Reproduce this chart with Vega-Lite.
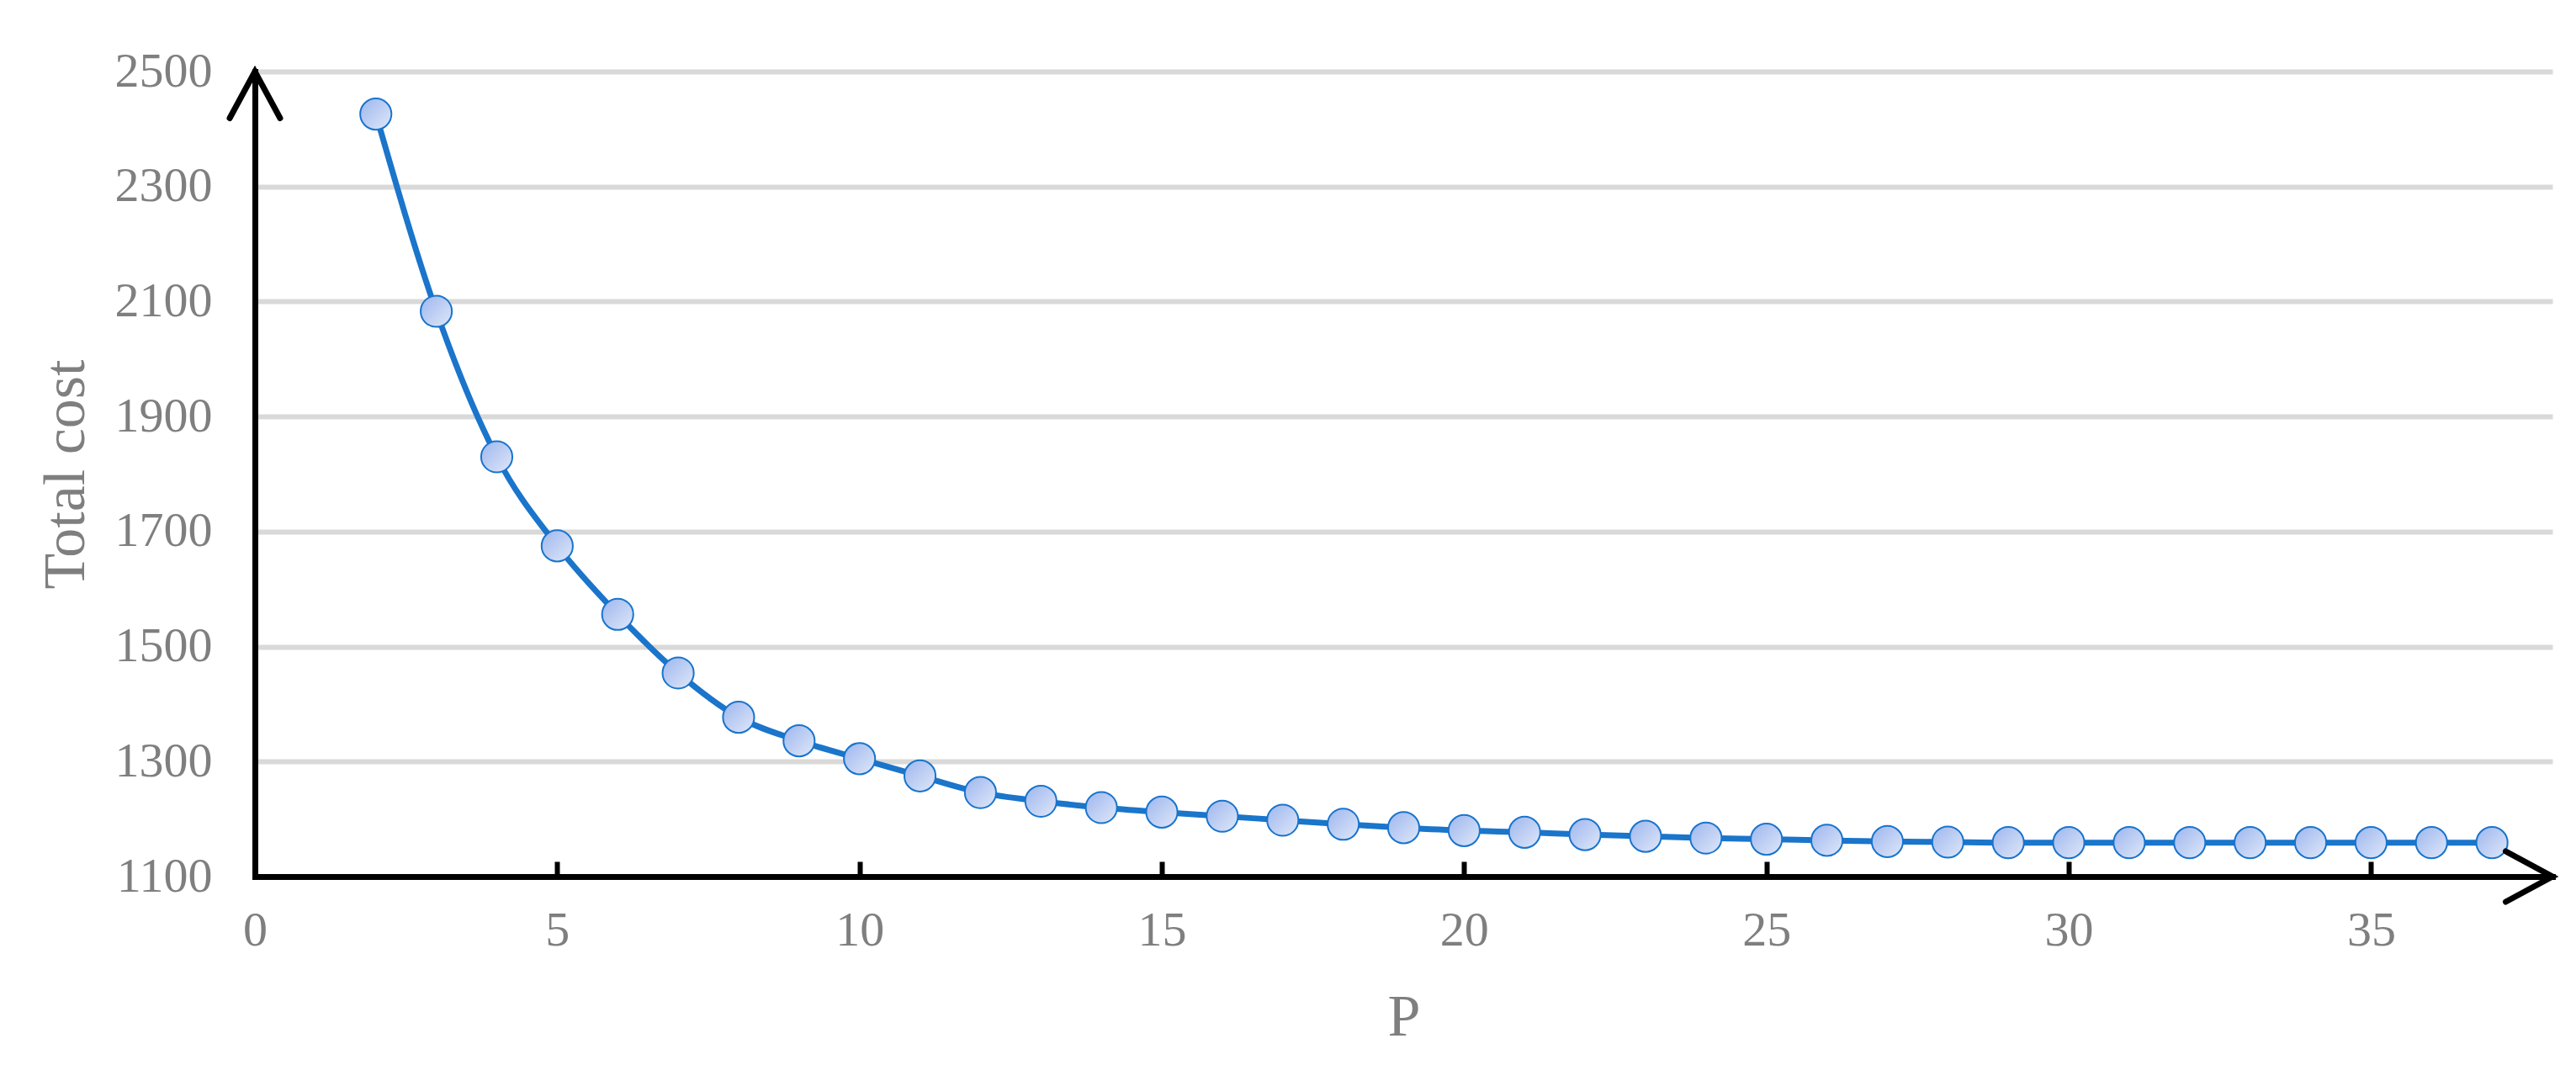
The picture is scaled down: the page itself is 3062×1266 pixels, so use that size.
{
  "$schema": "https://vega.github.io/schema/vega-lite/v6.json",
  "width": 2731,
  "height": 957,
  "autosize": {"type": "none"},
  "padding": {"left": 303, "top": 85, "right": 28, "bottom": 224},
  "background": "white",
  "config": {"view": {"stroke": null}, "font": "Liberation Serif"},
  "datasets": {
    "cost": [
      {"P": 2, "cost": 2426}, {"P": 3, "cost": 2083}, {"P": 4, "cost": 1830},
      {"P": 5, "cost": 1675}, {"P": 6, "cost": 1556}, {"P": 7, "cost": 1454},
      {"P": 8, "cost": 1377}, {"P": 9, "cost": 1336}, {"P": 10, "cost": 1305},
      {"P": 11, "cost": 1275}, {"P": 12, "cost": 1246}, {"P": 13, "cost": 1231},
      {"P": 14, "cost": 1220}, {"P": 15, "cost": 1212}, {"P": 16, "cost": 1205},
      {"P": 17, "cost": 1198}, {"P": 18, "cost": 1191}, {"P": 19, "cost": 1185},
      {"P": 20, "cost": 1180}, {"P": 21, "cost": 1177}, {"P": 22, "cost": 1173},
      {"P": 23, "cost": 1170}, {"P": 24, "cost": 1167}, {"P": 25, "cost": 1165},
      {"P": 26, "cost": 1163}, {"P": 27, "cost": 1161}, {"P": 28, "cost": 1160},
      {"P": 29, "cost": 1159}, {"P": 30, "cost": 1159}, {"P": 31, "cost": 1159},
      {"P": 32, "cost": 1159}, {"P": 33, "cost": 1159}, {"P": 34, "cost": 1159},
      {"P": 35, "cost": 1159}, {"P": 36, "cost": 1159}, {"P": 37, "cost": 1159}
    ],
    "arrows": [
      {"P": 0, "cost": 2500, "dir": "up"},
      {"P": 38, "cost": 1100, "dir": "right"}
    ]
  },
  "encoding": {
    "x": {
      "field": "P", "type": "quantitative",
      "scale": {"domain": [0, 38], "nice": false, "zero": false},
      "axis": {
        "title": "P",
        "format": "d",
        "values": [0, 5, 10, 15, 20, 25, 30, 35],
        "grid": false,
        "zindex": 1,
        "domainColor": "black", "domainWidth": 7, "domainCap": "square",
        "tickColor": "black", "tickWidth": 6, "tickSize": -18,
        "labelFont": "Liberation Serif", "labelFontSize": 58, "labelColor": "#7F7F7F",
        "labelPadding": 53, "labelFlush": false, "labelOverlap": false,
        "titleFont": "Liberation Serif", "titleFontSize": 70, "titleColor": "#7F7F7F",
        "titleFontWeight": "normal", "titlePadding": 40
      }
    },
    "y": {
      "field": "cost", "type": "quantitative",
      "scale": {"domain": [1100, 2500], "nice": false, "zero": false},
      "axis": {
        "title": "Total cost",
        "format": "d",
        "values": [1100, 1300, 1500, 1700, 1900, 2100, 2300, 2500],
        "grid": true, "gridColor": "#D9D9D9", "gridWidth": 6,
        "ticks": false, "tickSize": 0,
        "zindex": 0,
        "domainColor": "black", "domainWidth": 7, "domainCap": "square",
        "labelFont": "Liberation Serif", "labelFontSize": 58, "labelColor": "#7F7F7F",
        "labelPadding": 51, "labelFlush": false, "labelOverlap": false,
        "titleFont": "Liberation Serif", "titleFontSize": 70, "titleColor": "#7F7F7F",
        "titleFontWeight": "normal", "titlePadding": 22
      }
    }
  },
  "layer": [
    {
      "data": {"name": "cost"},
      "mark": {"type": "line", "interpolate": "monotone", "color": "#1A75CB", "strokeWidth": 7},
      "encoding": {}
    },
    {
      "data": {"name": "cost"},
      "mark": {
        "type": "point", "shape": "circle", "size": 1380, "filled": true, "opacity": 1,
        "fill": {
          "gradient": "linear", "x1": 0, "y1": 0, "x2": 1, "y2": 1,
          "stops": [{"offset": 0, "color": "#9DB6EE"}, {"offset": 1, "color": "#E0E8F9"}]
        },
        "stroke": "#1874CD", "strokeWidth": 2
      },
      "encoding": {}
    },
    {
      "data": {"name": "arrows"},
      "mark": {
        "type": "point", "filled": false, "size": 12321, "opacity": 1,
        "stroke": "black", "strokeWidth": 7, "strokeCap": "round", "strokeJoin": "miter"
      },
      "encoding": {
        "shape": {
          "field": "dir", "type": "nominal",
          "scale": {"domain": ["up", "right"], "range": ["M-0.54,1L0,0L0.54,1", "M-1,-0.54L0,0L-1,0.54"]},
          "legend": null
        }
      }
    }
  ]
}
